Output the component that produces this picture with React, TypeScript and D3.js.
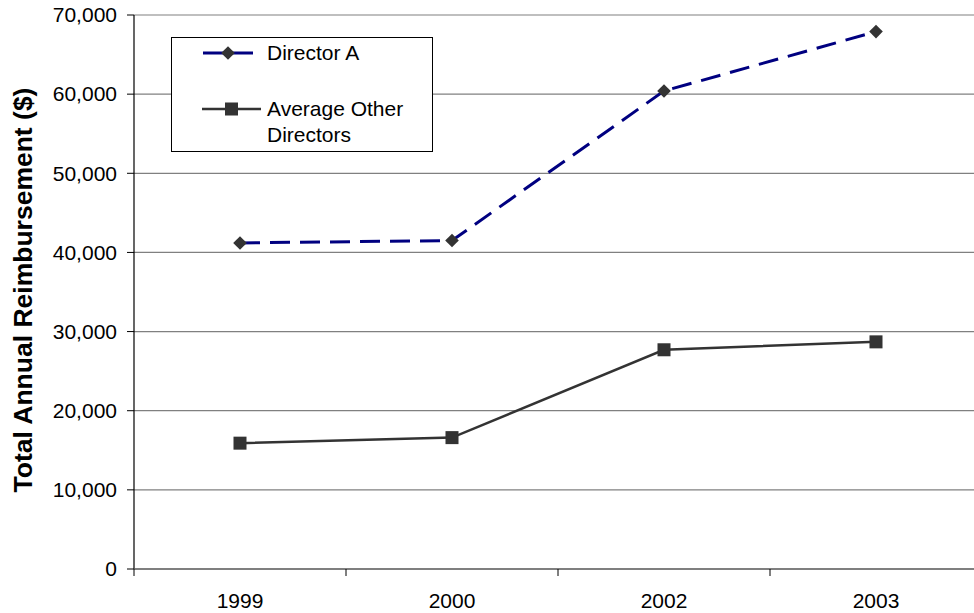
import React from "react";
import * as d3 from "d3";

const years = ["1999", "2000", "2002", "2003"];
const directorA = [41200, 41500, 60400, 67900];
const averageOthers = [15900, 16600, 27700, 28700];
const yTicks = [0, 10000, 20000, 30000, 40000, 50000, 60000, 70000];
const seriesNames = ["Director A", "Average Other Directors"];

const W = 974;
const H = 613;
const left = 134;
const right = 982;
const top = 15;
const bottom = 569;
const FONT = "'Liberation Sans', Arial, sans-serif";
const FS = 21;

export default function App() {
  const x = d3.scaleBand<string>().domain(years).range([left, right]).padding(0);
  const y = d3.scaleLinear().domain([0, 70000]).range([bottom, top]);
  const cx = (d: string) => (x(d) as number) + x.bandwidth() / 2;

  const line = d3
    .line<number>()
    .x((_, i) => cx(years[i]))
    .y((v) => y(v));

  const diamond = d3.symbol().type(d3.symbolDiamond2).size(118);
  const fmt = d3.format(",");

  return (
    <svg
      width={W}
      height={H}
      style={{ position: "absolute", left: 0, top: 0, background: "#fff" }}
      fontFamily={FONT}
    >
      {/* gridlines */}
      {yTicks.slice(1).map((t) => (
        <line key={t} x1={left} x2={W} y1={y(t)} y2={y(t)} stroke="#808080" strokeWidth={1.2} />
      ))}
      {/* y axis */}
      <line x1={left} x2={left} y1={top} y2={bottom} stroke="#000" strokeWidth={1.2} />
      {yTicks.map((t) => (
        <g key={"yt" + t}>
          <line x1={left - 7} x2={left} y1={y(t)} y2={y(t)} stroke="#000" strokeWidth={1} />
          <text x={left - 17} y={y(t)} dy="0.35em" textAnchor="end" fontSize={FS} fill="#000">
            {fmt(t)}
          </text>
        </g>
      ))}
      {/* x axis */}
      <line x1={left} x2={W} y1={bottom} y2={bottom} stroke="#555" strokeWidth={1.5} />
      {years.map((yr) => (
        <line
          key={"xt" + yr}
          x1={x(yr) as number}
          x2={x(yr) as number}
          y1={bottom}
          y2={bottom + 7}
          stroke="#000"
          strokeWidth={1}
        />
      ))}
      {years.map((yr) => (
        <text key={"xl" + yr} x={cx(yr)} y={608} textAnchor="middle" fontSize={FS} fill="#000">
          {yr}
        </text>
      ))}
      {/* y title */}
      <text
        transform={`translate(32,290) rotate(-90)`}
        textAnchor="middle"
        fontSize={26.5}
        fontWeight="bold"
        fill="#000"
      >
        Total Annual Reimbursement ($)
      </text>

      {/* Average other directors */}
      <path d={line(averageOthers) || ""} fill="none" stroke="#333" strokeWidth={2.5} />
      {averageOthers.map((v, i) => (
        <rect key={"sq" + i} x={cx(years[i]) - 6.5} y={y(v) - 6.5} width={13} height={13} fill="#333" />
      ))}

      {/* Director A */}
      <path
        d={line(directorA) || ""}
        fill="none"
        stroke="#000080"
        strokeWidth={3}
        strokeDasharray="20 10"
      />
      {directorA.map((v, i) => (
        <path
          key={"dm" + i}
          d={diamond() || ""}
          transform={`translate(${cx(years[i])},${y(v)})`}
          fill="#333"
        />
      ))}

      {/* legend */}
      <rect x={171.5} y={37.5} width={261} height={114} fill="#fff" stroke="#000" strokeWidth={1} />
      <line x1={203} x2={253} y1={53} y2={53} stroke="#000080" strokeWidth={3} />
      <path d={diamond() || ""} transform="translate(228,53)" fill="#333" />
      <text x={267} y={60} fontSize={FS} fill="#000">
        {seriesNames[0]}
      </text>
      <line x1={202} x2={261} y1={109} y2={109} stroke="#333" strokeWidth={2.5} />
      <rect x={225} y={102.5} width={13} height={13} fill="#333" />
      <text x={267} y={116} fontSize={FS} fill="#000">
        Average Other
      </text>
      <text x={267} y={142} fontSize={FS} fill="#000">
        Directors
      </text>
    </svg>
  );
}
